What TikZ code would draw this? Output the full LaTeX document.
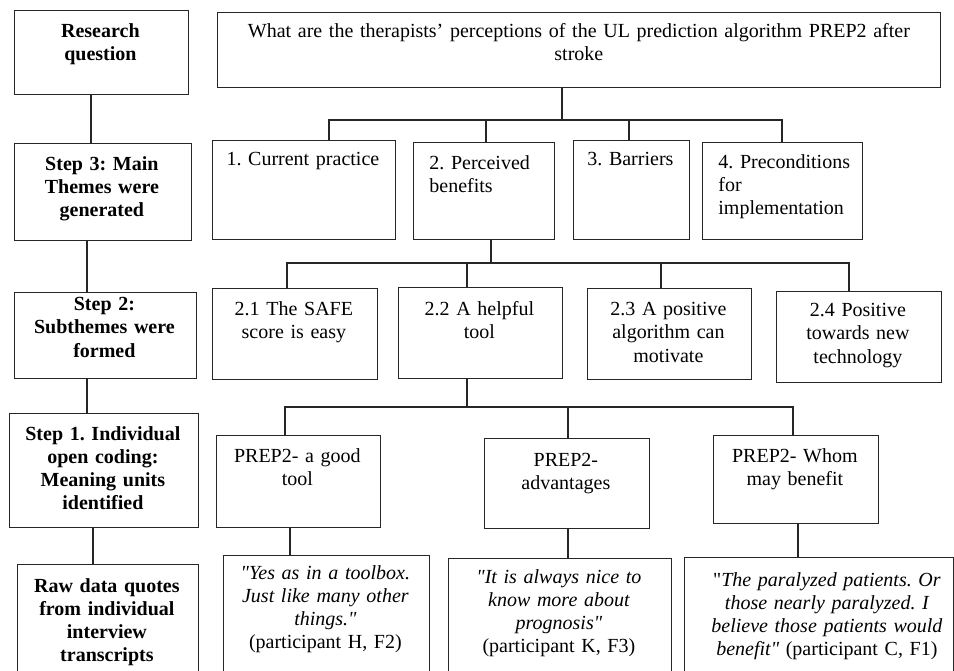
\documentclass[tikz,border=0pt]{standalone}
\usepackage{fontspec}
\setmainfont{Liberation Serif}[Ligatures=TeXOff]
\frenchspacing
\tikzset{
  bxs/.style={draw=black!85, line width=0.6pt, rectangle, inner sep=0pt},
  txt/.style={inner sep=0pt, font=\fontsize{10}{11.6}\selectfont},
  ln/.style={draw=black!85, line width=0.6pt},
}
% name, x1, y1, x2, y2, align, left inset(px), pad(px), text
\newcommand\mybx[9]{%
  \pgfmathsetlengthmacro\bxw{(#4-#2)*0.5pt}%
  \pgfmathsetlengthmacro\bxh{(#5-#3)*0.5pt}%
  \pgfmathsetlengthmacro\bxt{(#4-#2-#7-4)*0.5pt}%
  \node[bxs, anchor=north west, minimum width=\bxw, minimum height=\bxh] (#1) at (#2,#3) {};
  \node[txt, anchor=north west, text width=\bxt, align=#6] (#1t) at ([xshift=#7*0.5pt, yshift=-#8*0.5pt]#1.north west) {#9};
}
\begin{document}
\hyphenpenalty=10000\relax
\exhyphenpenalty=10000\relax
\begin{tikzpicture}[x=0.5pt, y=-0.5pt]
\useasboundingbox (0,0) rectangle (954,670);
\fill[white] (0,0) rectangle (954,670);
\clip (0,0) rectangle (954,670);

% left column
\mybx{L0}{14}{10}{188}{94}{center}{2}{13}{\bfseries Research\\question}
\mybx{L3}{14}{143}{191}{240}{center}{2}{13}{\bfseries Step 3: Main\\Themes were\\generated}
\mybx{L2}{14}{292}{196}{378}{center}{2}{5}{\bfseries Step 2:\\Subthemes were\\formed}
\mybx{L1}{9}{413}{198}{527}{center}{2}{13}{\bfseries Step 1. Individual\\open coding:\\Meaning units\\identified}
\mybx{LR}{17}{564}{198}{710}{center}{2}{14}{\bfseries Raw data quotes\\from individual\\interview\\transcripts}

% research question
\mybx{QQ}{217}{12}{940}{87}{center}{4}{11}{What are the therapists’ perceptions of the UL prediction algorithm PREP2 after\\stroke}

% main themes
\mybx{T1}{212}{140}{395}{239}{center}{2}{12}{1. Current practice}
\mybx{T2}{413}{142}{554}{239}{left}{16}{13}{2. Perceived\\benefits}
\mybx{T3}{573}{140}{689}{239}{center}{2}{12}{3. Barriers}
\mybx{T4}{702}{142}{862}{239}{left}{16}{12}{4. Preconditions\\for\\implementation}

% subthemes
\mybx{U1}{212}{288}{377}{379}{center}{2}{13}{2.1 The SAFE\\score is easy}
\mybx{U2}{398}{287}{562}{378}{center}{2}{14}{2.2 A helpful\\tool}
\mybx{U3}{587}{288}{751}{379}{center}{2}{14}{2.3 A positive\\algorithm can\\motivate}
\mybx{U4}{776}{291}{941}{382}{center}{2}{12}{2.4 Positive\\towards new\\technology}

% meaning units
\mybx{P1}{216}{435}{380}{527}{center}{2}{13}{PREP2- a good\\tool}
\mybx{P2}{484}{438}{649}{528}{center}{2}{15}{PREP2-\\advantages}
\mybx{P3}{713}{435}{878}{523}{center}{2}{13}{PREP2- Whom\\may benefit}

% quotes
\mybx{R1}{223}{555}{429}{710}{center}{2}{10}{\itshape "Yes as in a toolbox.\\Just like many other\\things."\\\upshape(participant H, F2)}
\mybx{R2}{448}{558}{671}{710}{center}{2}{11}{\itshape "It is always nice to\\know more about\\prognosis"\\\upshape(participant K, F3)}
\mybx{R3}{684}{557}{953}{710}{center}{20}{15}{"{\itshape The paralyzed patients. Or}\\{\itshape those nearly paralyzed. I}\\{\itshape believe those patients would}\\{\itshape benefit"} (participant C, F1)}

% x positions
\coordinate (x91) at (91,0);
\coordinate (x87) at (87,0);
\coordinate (x93) at (93,0);
\coordinate (x486) at (486,0);
\coordinate (x629) at (629,0);
\coordinate (x467) at (467,0);
\coordinate (x661) at (661,0);
\coordinate (x568) at (568,0);
\coordinate (x290) at (290,0);
\coordinate (x798) at (798,0);

% left column connectors
\draw[ln] (L0.south -| x91) -- (L3.north -| x91);
\draw[ln] (L3.south -| x87) -- (L2.north -| x87);
\draw[ln] (L2.south -| x87) -- (L1.north -| x87);
\draw[ln] (L1.south -| x93) -- (LR.north -| x93);

% question -> themes
\coordinate (j0) at (562,120);
\coordinate (b0l) at (329,120);
\coordinate (b0r) at (782,120);
\draw[ln] (QQ.south -| j0) -- (j0);
\draw[ln] (T1.north -| b0l) -- (b0l) -- (b0r) -- (T4.north -| b0r);
\draw[ln] (T2.north -| x486) -- (b0l -| x486);
\draw[ln] (T3.north -| x629) -- (b0l -| x629);

% theme 2 -> subthemes
\coordinate (j1) at (491,263);
\coordinate (b1l) at (287,263);
\coordinate (b1r) at (849,263);
\draw[ln] (T2.south -| j1) -- (j1);
\draw[ln] (U1.north -| b1l) -- (b1l) -- (b1r) -- (U4.north -| b1r);
\draw[ln] (U2.north -| x467) -- (b1l -| x467);
\draw[ln] (U3.north -| x661) -- (b1l -| x661);

% subtheme 2.2 -> meaning units
\coordinate (j2) at (467,407);
\coordinate (b2l) at (285,407);
\coordinate (b2r) at (793,407);
\draw[ln] (U2.south -| j2) -- (j2);
\draw[ln] (P1.north -| b2l) -- (b2l) -- (b2r) -- (P3.north -| b2r);
\draw[ln] (P2.north -| x568) -- (b2l -| x568);

% meaning units -> quotes
\draw[ln] (P1.south -| x290) -- (R1.north -| x290);
\draw[ln] (P2.south -| x568) -- (R2.north -| x568);
\draw[ln] (P3.south -| x798) -- (R3.north -| x798);
\end{tikzpicture}
\end{document}
